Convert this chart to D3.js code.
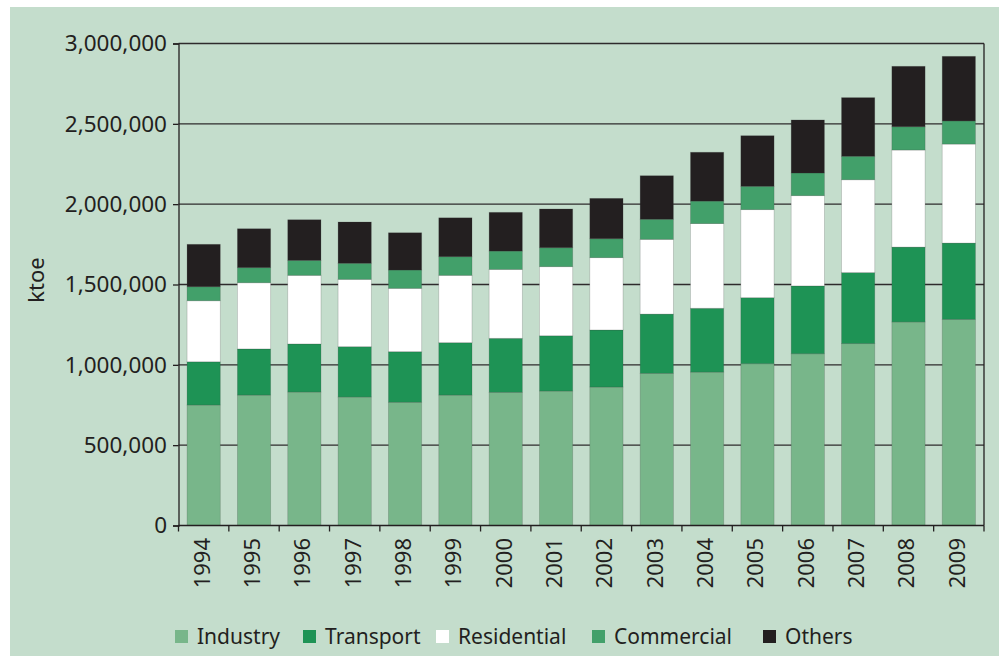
<!DOCTYPE html>
<html>
<head>
<meta charset="utf-8">
<script src="https://cdn.jsdelivr.net/npm/d3@7"></script>
<style>
  body { margin: 0; background: #ffffff; }
  svg text { font-family: "Noto Sans", sans-serif; fill: #231f20; }
</style>
</head>
<body>
<svg id="chart" width="999" height="656"></svg>
<script>
const years = ["1994", "1995", "1996", "1997", "1998", "1999", "2000", "2001",
               "2002", "2003", "2004", "2005", "2006", "2007", "2008", "2009"];

// values in ktoe
const industry    = [750000, 812000, 831000, 800000, 767000, 812000, 829000, 837000,
                     862000, 947000, 955000, 1007000, 1069000, 1132000, 1267000, 1283000];
const transport   = [269000, 287000, 299000, 313000, 315000, 326000, 336000, 344000,
                     355000, 369000, 397000, 411000, 422000, 442000, 466000, 475000];
const residential = [380000, 412000, 427000, 419000, 394000, 419000, 429000, 430000,
                     450000, 465000, 527000, 548000, 562000, 578000, 604000, 616000];
const commercial  = [87000, 94000, 93000, 100000, 114000, 116000, 114000, 118000,
                     118000, 125000, 140000, 145000, 141000, 146000, 145000, 144000];
const others      = [264000, 242000, 253000, 257000, 232000, 242000, 241000, 241000,
                     251000, 271000, 304000, 315000, 330000, 365000, 376000, 402000];

const seriesNames = ["Industry", "Transport", "Residential", "Commercial", "Others"];
const seriesColors = ["#78b68a", "#1e9355", "#ffffff", "#42a06a", "#231f20"];
const yTicks = [0, 500000, 1000000, 1500000, 2000000, 2500000, 3000000];

const svg = d3.select("#chart");

// green panel
svg.append("rect")
    .attr("x", 10).attr("y", 7)
    .attr("width", 989).attr("height", 649)
    .attr("fill", "#c4ddcc");

const plotLeft = 178.5, plotRight = 984, plotTop = 43.5, plotBottom = 525.5;

const x = d3.scaleBand()
    .domain(years)
    .range([plotLeft, plotRight])
    .paddingInner(0.34)
    .paddingOuter(0.17);

const y = d3.scaleLinear()
    .domain([0, 3000000])
    .range([plotBottom, plotTop]);

// stack the series
const table = years.map((yr, i) => ({
    year: yr,
    Industry: industry[i],
    Transport: transport[i],
    Residential: residential[i],
    Commercial: commercial[i],
    Others: others[i]
}));
const stacked = d3.stack().keys(seriesNames)(table);

// gridlines (behind bars)
svg.append("g")
    .selectAll("line")
    .data(yTicks.filter(d => d > 0))
    .enter()
    .append("line")
    .attr("x1", plotLeft).attr("x2", plotRight)
    .attr("y1", d => y(d)).attr("y2", d => y(d))
    .attr("stroke", "#2e2b2c")
    .attr("stroke-width", 1.3);

// bars
svg.append("g")
    .selectAll("g")
    .data(stacked)
    .enter()
    .append("g")
    .attr("fill", (d, i) => seriesColors[i])
    .selectAll("rect")
    .data(d => d)
    .enter()
    .append("rect")
    .attr("x", d => x(d.data.year))
    .attr("width", x.bandwidth())
    .attr("y", d => y(d[1]))
    .attr("height", d => y(d[0]) - y(d[1]))
    .attr("stroke", "rgba(60,60,60,0.25)")
    .attr("stroke-width", 0.8);

// y axis
const yAxis = svg.append("g")
    .attr("transform", `translate(${plotLeft},0)`)
    .call(d3.axisLeft(y).tickValues(yTicks).tickFormat(d3.format(",")).tickSize(5.5).tickPadding(6));
yAxis.select(".domain").attr("stroke", "#231f20").attr("stroke-width", 1.3);
yAxis.selectAll(".tick line").attr("stroke", "#231f20").attr("stroke-width", 1.3);
yAxis.selectAll(".tick text")
    .attr("font-size", "22.5px")
    .attr("font-family", "Noto Sans")
    .attr("fill", "#231f20");

// right frame line
svg.append("line")
    .attr("x1", plotRight).attr("x2", plotRight)
    .attr("y1", plotTop).attr("y2", plotBottom)
    .attr("stroke", "#231f20")
    .attr("stroke-width", 1.3);

// x axis baseline
svg.append("line")
    .attr("x1", plotLeft).attr("x2", plotRight)
    .attr("y1", plotBottom).attr("y2", plotBottom)
    .attr("stroke", "#231f20")
    .attr("stroke-width", 1.3);

// x ticks at band boundaries
const step = x.step();
const boundaries = d3.range(years.length + 1).map(i => plotLeft + i * step);
svg.append("g")
    .selectAll("line")
    .data(boundaries)
    .enter()
    .append("line")
    .attr("x1", d => d).attr("x2", d => d)
    .attr("y1", plotBottom).attr("y2", plotBottom + 6)
    .attr("stroke", "#231f20")
    .attr("stroke-width", 1.3);

// x labels, rotated
svg.append("g")
    .selectAll("text")
    .data(years)
    .enter()
    .append("text")
    .attr("transform", d => `translate(${x(d) + x.bandwidth() / 2 - 2},538) rotate(-90)`)
    .attr("text-anchor", "end")
    .attr("dy", "0.36em")
    .attr("font-size", "22px")
    .text(d => d);

// y axis title
svg.append("text")
    .attr("transform", "translate(36,280) rotate(-90)")
    .attr("text-anchor", "middle")
    .attr("dy", "0.36em")
    .attr("font-size", "22px")
    .text("ktoe");

// legend
const legendX = [175, 303, 436, 592, 763];
const legend = svg.append("g")
    .selectAll("g")
    .data(seriesNames)
    .enter()
    .append("g")
    .attr("transform", (d, i) => `translate(${legendX[i]},630)`);
legend.append("rect")
    .attr("width", 13).attr("height", 13)
    .attr("fill", (d, i) => seriesColors[i]);
legend.append("text")
    .attr("x", 22)
    .attr("y", 13.5)
    .attr("font-size", "21px")
    .text(d => d);
</script>
</body>
</html>
